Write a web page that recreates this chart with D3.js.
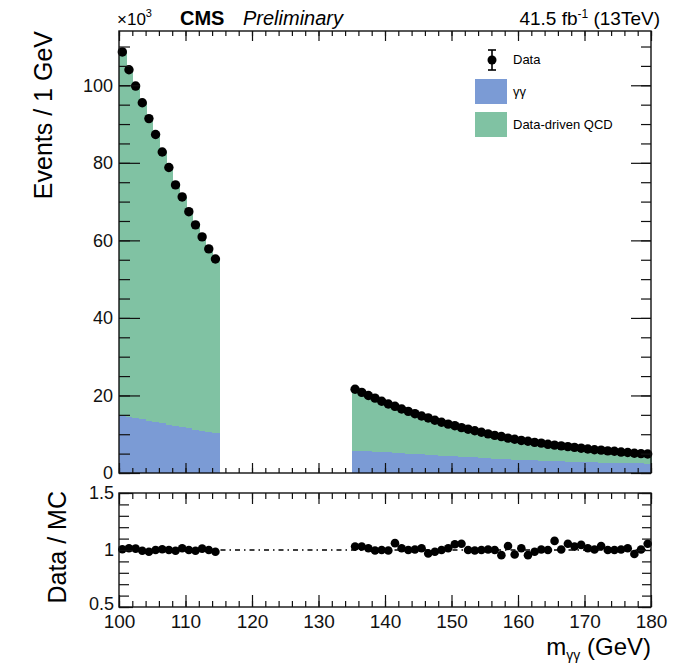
<!DOCTYPE html>
<html>
<head>
<meta charset="utf-8">
<script src="https://cdn.jsdelivr.net/npm/d3@7"></script>
<style>
  body { margin: 0; background: #fff; }
  svg { font-family: "Liberation Sans", Arial, Helvetica, sans-serif; }
</style>
</head>
<body>
<div id="svg"></div>
<script>
var w = 674;
var h = 663;

// bins of 1 GeV, low edges (signal region 115-135 is blinded)
var binsLow = [100, 101, 102, 103, 104, 105, 106, 107, 108, 109, 110, 111, 112, 113, 114,
  135, 136, 137, 138, 139, 140, 141, 142, 143, 144, 145, 146, 147, 148, 149,
  150, 151, 152, 153, 154, 155, 156, 157, 158, 159, 160, 161, 162, 163, 164,
  165, 166, 167, 168, 169, 170, 171, 172, 173, 174, 175, 176, 177, 178, 179];

// events x10^3
var dataEvents = [108.6, 104.0, 99.8, 95.5, 91.4, 87.3, 82.8, 78.8, 74.3, 71.2, 67.4, 64.0, 60.9, 57.8, 55.2,
  21.6, 20.8, 20.0, 19.3, 18.5, 17.8, 17.2, 16.5, 15.9, 15.3, 14.7, 14.2, 13.6, 13.1, 12.6,
  12.2, 11.7, 11.3, 10.9, 10.5, 10.1, 9.7, 9.4, 9.0, 8.7, 8.4, 8.2, 7.9, 7.7, 7.4,
  7.2, 7.0, 6.8, 6.6, 6.4, 6.2, 6.0, 5.9, 5.7, 5.6, 5.4, 5.3, 5.1, 5.0, 4.9];

var diphoton = [14.8, 14.5, 14.1, 13.8, 13.4, 13.1, 12.8, 12.4, 12.1, 11.8, 11.5, 11.2, 10.9, 10.6, 10.3,
  5.8, 5.7, 5.6, 5.5, 5.4, 5.3, 5.2, 5.1, 5.0, 4.9, 4.8, 4.7, 4.6, 4.5, 4.4,
  4.3, 4.2, 4.1, 4.0, 3.9, 3.8, 3.7, 3.6, 3.5, 3.45, 3.4, 3.3, 3.25, 3.2, 3.1,
  3.05, 3.0, 2.95, 2.9, 2.85, 2.8, 2.75, 2.7, 2.65, 2.6, 2.6, 2.55, 2.5, 2.5, 2.45];

var qcd = [93.8, 89.5, 85.7, 81.7, 78.0, 74.2, 70.0, 66.4, 62.2, 59.4, 55.9, 52.8, 50.0, 47.2, 44.9,
  15.8, 15.1, 14.4, 13.8, 13.1, 12.5, 12.0, 11.4, 10.9, 10.4, 9.9, 9.5, 9.0, 8.6, 8.2,
  7.9, 7.5, 7.2, 6.9, 6.6, 6.3, 6.0, 5.8, 5.5, 5.25, 5.0, 4.9, 4.65, 4.5, 4.3,
  4.15, 4.0, 3.85, 3.7, 3.55, 3.4, 3.25, 3.2, 3.05, 3.0, 2.8, 2.75, 2.6, 2.5, 2.45];

var ratio = [1.006, 1.015, 1.012, 0.994, 0.985, 1.0, 1.006, 1.0, 0.994, 1.015, 1.0, 0.994, 1.012, 1.0, 0.985,
  1.03, 1.03, 1.015, 0.995, 1.0, 0.995, 1.06, 1.015, 1.0, 1.005, 1.015, 0.97, 0.985, 1.0, 1.015,
  1.05, 1.055, 1.0, 0.995, 1.0, 1.005, 1.0, 0.955, 1.035, 0.96, 1.015, 0.955, 0.985, 1.005, 1.0,
  1.08, 1.005, 1.055, 1.03, 1.045, 1.015, 1.005, 1.035, 1.0, 1.0, 1.005, 1.015, 0.965, 1.005, 1.055];

var xTicks = [100, 110, 120, 130, 140, 150, 160, 170, 180];
var yTicks = [0, 20, 40, 60, 80, 100];
var rTicks = [0.5, 1, 1.5];

var colGG = '#7b9bd5';
var colQCD = '#80c2a3';

var rows = binsLow.map((lo, i) => ({
  lo: lo, data: dataEvents[i], gg: diphoton[i], qcd: qcd[i], ratio: ratio[i]
}));

var main = { top: 31, bottom: 473, left: 119, right: 651 };
var lower = { top: 493, bottom: 607 };

const svg = d3.select('#svg')
  .append('svg')
  .attr('width', w)
  .attr('height', h);

var x = d3.scaleLinear().domain([100, 180]).range([main.left, main.right]);
var y = d3.scaleLinear().domain([0, 114]).range([main.bottom, main.top]);
var yr = d3.scaleLinear().domain([0.5, 1.5]).range([lower.bottom, lower.top]);

// stacked histogram
var bins = svg.append('g').attr('shape-rendering', 'crispEdges');
bins.selectAll('rect.gg')
  .data(rows).enter().append('rect')
  .attr('x', d => x(d.lo))
  .attr('width', d => x(d.lo + 1) - x(d.lo) + 1)
  .attr('y', d => y(d.gg))
  .attr('height', d => y(0) - y(d.gg))
  .attr('fill', colGG);
bins.selectAll('rect.qcd')
  .data(rows).enter().append('rect')
  .attr('x', d => x(d.lo))
  .attr('width', d => x(d.lo + 1) - x(d.lo) + 1)
  .attr('y', d => y(d.gg + d.qcd))
  .attr('height', d => y(d.gg) - y(d.gg + d.qcd))
  .attr('fill', colQCD);

// data points
svg.append('g').selectAll('circle')
  .data(rows).enter().append('circle')
  .attr('cx', d => x(d.lo + 0.5))
  .attr('cy', d => y(d.data))
  .attr('r', 4.7)
  .attr('fill', 'black');

// ratio reference line
svg.append('line')
  .attr('x1', x(100)).attr('x2', x(180))
  .attr('y1', yr(1)).attr('y2', yr(1))
  .attr('stroke', 'black')
  .attr('stroke-width', 1.3)
  .attr('stroke-dasharray', '5,4,1.5,4');

svg.append('g').selectAll('circle')
  .data(rows).enter().append('circle')
  .attr('cx', d => x(d.lo + 0.5))
  .attr('cy', d => yr(d.ratio))
  .attr('r', 4.3)
  .attr('fill', 'black');

// frames and inward ticks, ROOT style
function ticks(axis, pos, vals, size, withLabels, fontSize) {
  var g = svg.append('g')
    .attr('transform', pos)
    .call(axis.tickValues(vals).tickSize(size).tickSizeOuter(0)
      .tickFormat(withLabels ? d3.format('') : ''));
  g.select('.domain').remove();
  g.selectAll('line').attr('stroke', '#111').attr('stroke-width', 1.2);
  g.selectAll('text').attr('fill', '#111').style('font-size', fontSize + 'px');
  return g;
}

function frame(top, bottom) {
  svg.append('rect')
    .attr('x', main.left).attr('y', top)
    .attr('width', main.right - main.left).attr('height', bottom - top)
    .attr('fill', 'none').attr('stroke', '#111').attr('stroke-width', 1.4);
}

var xMinor = d3.range(100, 181, 2);
var yMinor = d3.range(0, 114, 5);
var rMinor = d3.range(0.5, 1.51, 0.1);

// main panel
frame(main.top, main.bottom);
ticks(d3.axisBottom(x), `translate(0,${main.bottom})`, xMinor, -5, false, 0);
ticks(d3.axisBottom(x), `translate(0,${main.bottom})`, xTicks, -10, false, 0);
ticks(d3.axisTop(x), `translate(0,${main.top})`, xMinor, -5, false, 0);
ticks(d3.axisTop(x), `translate(0,${main.top})`, xTicks, -10, false, 0);
ticks(d3.axisLeft(y), `translate(${main.left},0)`, yMinor, -11, false, 0);
var yl = ticks(d3.axisLeft(y), `translate(${main.left},0)`, yTicks, -21, true, 18);
yl.selectAll('text').attr('x', -6);
ticks(d3.axisRight(y), `translate(${main.right},0)`, yMinor, -10, false, 0);
ticks(d3.axisRight(y), `translate(${main.right},0)`, yTicks, -20, false, 0);

// ratio panel
frame(lower.top, lower.bottom);
ticks(d3.axisTop(x), `translate(0,${lower.top})`, xMinor, -6, false, 0);
ticks(d3.axisTop(x), `translate(0,${lower.top})`, xTicks, -11, false, 0);
ticks(d3.axisBottom(x), `translate(0,${lower.bottom})`, xMinor, -6, false, 0);
var xl = ticks(d3.axisBottom(x), `translate(0,${lower.bottom})`, xTicks, -12, true, 19);
xl.selectAll('text').attr('y', 8);
ticks(d3.axisLeft(yr), `translate(${main.left},0)`, rMinor, -10, false, 0);
var rl = ticks(d3.axisLeft(yr), `translate(${main.left},0)`, rTicks, -14, true, 18);
rl.selectAll('text').attr('x', -5).text(d => d3.format('')(d));
rl.selectAll('text').filter(d => d === 0.5).attr('y', -3);
ticks(d3.axisRight(yr), `translate(${main.right},0)`, rMinor, -9, false, 0);
ticks(d3.axisRight(yr), `translate(${main.right},0)`, rTicks, -13, false, 0);

// titles
svg.append('text')
  .attr('transform', `translate(52,${main.top}) rotate(-90)`)
  .attr('text-anchor', 'end')
  .style('font-size', '25px')
  .text('Events / 1 GeV');

svg.append('text')
  .attr('transform', `translate(66,${lower.top - 2}) rotate(-90)`)
  .attr('text-anchor', 'end')
  .style('font-size', '25px')
  .text('Data / MC');

var xt = svg.append('text')
  .attr('x', 651).attr('y', 655)
  .attr('text-anchor', 'end')
  .style('font-size', '24px');
xt.append('tspan').text('m');
xt.append('tspan').attr('dy', 5).style('font-size', '14px').text('γγ');
xt.append('tspan').attr('dy', -5).text(' (GeV)');

var mult = svg.append('text').attr('x', 117).attr('y', 25).style('font-size', '17px');
mult.append('tspan').text('×10');
mult.append('tspan').attr('dy', -8).style('font-size', '11px').text('3');

svg.append('text').attr('x', 180).attr('y', 25)
  .style('font-size', '20px').style('font-weight', 'bold').text('CMS');
svg.append('text').attr('x', 243).attr('y', 25)
  .style('font-size', '20px').style('font-style', 'italic').text('Preliminary');

var lumi = svg.append('text').attr('x', 660).attr('y', 25)
  .attr('text-anchor', 'end').style('font-size', '19px');
lumi.append('tspan').text('41.5 fb');
lumi.append('tspan').attr('dy', -7).style('font-size', '12px').text('-1');
lumi.append('tspan').attr('dy', 7).text(' (13TeV)');

// legend
var leg = svg.append('g');
leg.append('line').attr('x1', 492).attr('x2', 492).attr('y1', 50).attr('y2', 70)
  .attr('stroke', 'black').attr('stroke-width', 1.6);
leg.append('line').attr('x1', 488).attr('x2', 496).attr('y1', 50).attr('y2', 50)
  .attr('stroke', 'black').attr('stroke-width', 1.6);
leg.append('line').attr('x1', 488).attr('x2', 496).attr('y1', 70).attr('y2', 70)
  .attr('stroke', 'black').attr('stroke-width', 1.6);
leg.append('circle').attr('cx', 492).attr('cy', 60).attr('r', 4.5).attr('fill', 'black');
leg.append('rect').attr('x', 475).attr('y', 79).attr('width', 32).attr('height', 25).attr('fill', colGG);
leg.append('rect').attr('x', 475).attr('y', 112).attr('width', 32).attr('height', 25).attr('fill', colQCD);
var legLabels = ['Data', 'γγ', 'Data-driven QCD'];
leg.selectAll('text.lab')
  .data(legLabels).enter().append('text')
  .attr('x', 513)
  .attr('y', (d, i) => [64, 96, 129][i])
  .style('font-size', '13px')
  .text(d => d);
</script>
</body>
</html>
